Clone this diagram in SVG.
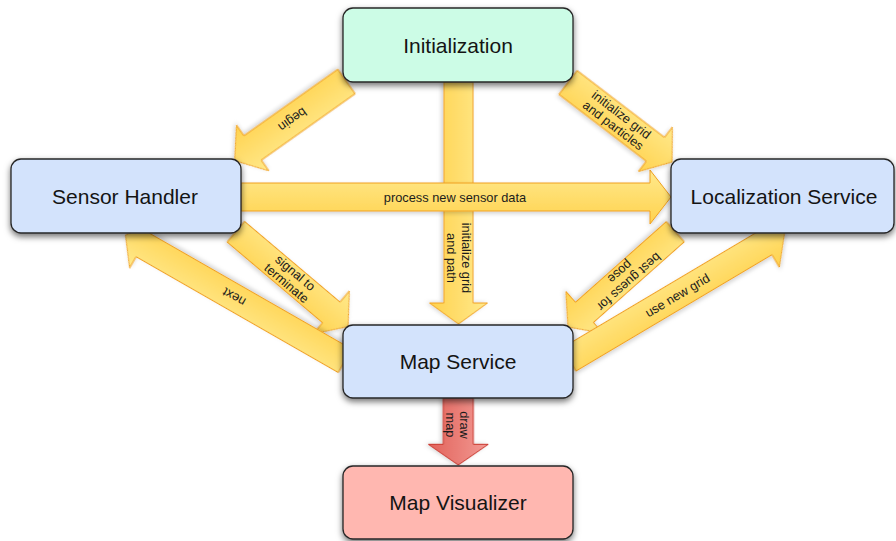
<svg xmlns="http://www.w3.org/2000/svg" width="896" height="541" viewBox="0 0 896 541">
  <defs>
    <linearGradient id="gYellow" x1="0" y1="0" x2="0" y2="1">
      <stop offset="0" stop-color="#FFE98C"/>
      <stop offset="1" stop-color="#FFD24E"/>
    </linearGradient>
    <linearGradient id="gRed" x1="0" y1="0" x2="0" y2="1">
      <stop offset="0" stop-color="#F29A94"/>
      <stop offset="1" stop-color="#E2625A"/>
    </linearGradient>
    <filter id="boxShadow" x="-10%" y="-20%" width="120%" height="150%">
      <feDropShadow dx="0" dy="3" stdDeviation="3" flood-color="#000" flood-opacity="0.55"/>
    </filter>
    <filter id="arrowShadow" x="-10%" y="-30%" width="120%" height="160%">
      <feDropShadow dx="0" dy="2" stdDeviation="2" flood-color="#000" flood-opacity="0.18"/>
    </filter>
  </defs>
  <style>
    .node rect { stroke: #262626; stroke-width: 1.3; filter: url(#boxShadow); }
    .node text { font-family: "Liberation Sans", Arial, Helvetica, sans-serif; font-size: 21px; fill: #141414; text-anchor: middle; }
    .arrow path { fill: url(#gYellow); stroke: #F0A020; stroke-width: 1; stroke-linejoin: miter; filter: url(#arrowShadow); }
    .arrow.red path { fill: url(#gRed); stroke: #C8342A; }
    .arrow text { font-family: "Liberation Sans", Arial, Helvetica, sans-serif; font-size: 12.8px; fill: #1c1c1c; text-anchor: middle; }
  </style>

  <rect width="896" height="541" fill="#ffffff"/>

  <!-- Block arrows: drawn along local +x from tail (0,0) to tip, then placed with translate/rotate -->
  <g id="connectors">
    <!-- Initialization -> Map Service -->
    <g class="arrow" transform="translate(458.5,82) rotate(90)">
      <path d="M0,-14.5 L221,-14.5 L221,-29 L242,0 L221,29 L221,14.5 L0,14.5 Z"/>
      <text x="176" y="-3">initialize grid</text>
      <text x="176" y="12">and path</text>
    </g>
    <!-- Sensor Handler -> Localization Service -->
    <g class="arrow" transform="translate(241,197)">
      <path d="M0,-14 L409,-14 L409,-27 L430,0 L409,27 L409,14 L0,14 Z"/>
      <text x="214" y="4.5">process new sensor data</text>
    </g>
    <!-- Initialization -> Sensor Handler -->
    <g class="arrow" transform="translate(346.5,81.5) rotate(144.7)">
      <path d="M0,-15 L115,-15 L115,-28 L137,0 L115,28 L115,15 L0,15 Z"/>
      <text x="66" y="4.5">begin</text>
    </g>
    <!-- Initialization -> Localization Service -->
    <g class="arrow" transform="translate(568,82.5) rotate(37.4)">
      <path d="M0,-15 L110,-15 L110,-28 L131,0 L110,28 L110,15 L0,15 Z"/>
      <text x="62" y="-2.5">initialize grid</text>
      <text x="62" y="11">and particles</text>
    </g>
    <!-- Sensor Handler -> Map Service -->
    <g class="arrow" transform="translate(235.8,231.7) rotate(40.2)">
      <path d="M0,-13.5 L125,-13.5 L125,-28 L147,0 L125,28 L125,13.5 L0,13.5 Z"/>
      <text x="72" y="-2.5">signal to</text>
      <text x="72" y="11">terminate</text>
    </g>
    <!-- Map Service -> Sensor Handler -->
    <g class="arrow" transform="translate(345,360.8) rotate(209.8)">
      <path d="M0,-13.5 L233,-13.5 L233,-26.5 L253,0 L233,26.5 L233,13.5 L0,13.5 Z"/>
      <text x="128" y="4.5">next</text>
    </g>
    <!-- Localization Service -> Map Service -->
    <g class="arrow" transform="translate(675.3,231.7) rotate(138.4)">
      <path d="M0,-13.5 L121.5,-13.5 L121.5,-28 L143.5,0 L121.5,28 L121.5,13.5 L0,13.5 Z"/>
      <text x="68" y="-2.5">best guess for</text>
      <text x="68" y="11">pose</text>
    </g>
    <!-- Map Service -> Localization Service -->
    <g class="arrow" transform="translate(569,359.5) rotate(-30.7)">
      <path d="M0,-13.5 L228,-13.5 L228,-28 L251,0 L228,28 L228,13.5 L0,13.5 Z"/>
      <text x="126" y="4.5">use new grid</text>
    </g>
    <!-- Map Service -> Map Visualizer -->
    <g class="arrow red" transform="translate(458.3,398) rotate(90)">
      <path d="M0,-15 L46.3,-15 L46.3,-30 L67,0 L46.3,30 L46.3,15 L0,15 Z"/>
      <text x="27" y="-1.5">draw</text>
      <text x="27" y="12">map</text>
    </g>
  </g>

  <!-- Nodes -->
  <g id="initialization" class="node">
    <rect x="343" y="8" width="230" height="74" rx="10" fill="#CCFCE6"/>
    <text x="458" y="52.5">Initialization</text>
  </g>
  <g id="sensor-handler" class="node">
    <rect x="11" y="159" width="230" height="74" rx="10" fill="#D3E3FC"/>
    <text x="125" y="203.5">Sensor Handler</text>
  </g>
  <g id="localization-service" class="node">
    <rect x="671" y="159" width="223" height="74" rx="10" fill="#D3E3FC"/>
    <text x="784" y="203.5">Localization Service</text>
  </g>
  <g id="map-service" class="node">
    <rect x="343" y="325" width="230" height="73" rx="10" fill="#D3E3FC"/>
    <text x="458" y="369">Map Service</text>
  </g>
  <g id="map-visualizer" class="node">
    <rect x="343" y="466" width="230" height="73" rx="10" fill="#FFB7B0"/>
    <text x="458" y="510">Map Visualizer</text>
  </g>
</svg>
